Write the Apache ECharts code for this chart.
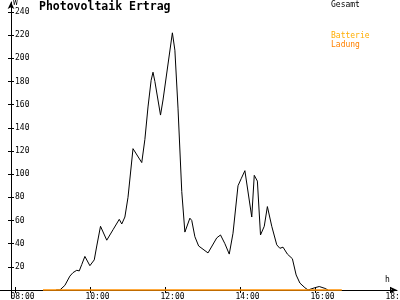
<!DOCTYPE html>
<html>
<head>
<meta charset="utf-8">
<script src="https://cdn.jsdelivr.net/npm/echarts@6/dist/echarts.min.js"></script>
<style>html,body{margin:0;padding:0;background:#fff}#c{width:400px;height:300px}</style>
</head>
<body>
<div id="c"></div>
<script>
const titleText = "Photovoltaik Ertrag";
const seriesNames = ["Gesamt", "Batterie", "Ladung"];
const xTickHours = [8, 10, 12, 14, 16, 18];
const yTickValues = [0, 20, 40, 60, 80, 100, 120, 140, 160, 180, 200, 220, 240];
const yLabelValues = [20, 40, 60, 80, 100, 120, 140, 160, 180, 200, 220, 240];

const gesamtTimes = ["09:05","09:11","09:19","09:27","09:32","09:38","09:42","09:46","09:51","09:59",
  "10:06","10:10","10:16","10:26","10:36","10:46","10:50","10:55","11:00","11:08",
  "11:22","11:27","11:32","11:37","11:40","11:43","11:52","11:56","12:11","12:15",
  "12:20","12:26","12:31","12:39","12:42","12:47","12:53","13:08","13:22","13:28",
  "13:35","13:42","13:48","13:56","14:01","14:07","14:18","14:22","14:27","14:32",
  "14:38","14:43","14:50","14:58","15:03","15:08","15:15","15:23","15:29","15:35",
  "15:43","15:48","15:59","16:06","16:15","16:20"];
const gesamtValues = [0,0,4,12,15,17,16.5,22,29,21,
  26,38,55,43,52,61,57,63,80,122,
  110,130,158,181,188,180,151,164,222,207,
  157,85,50,62,60,46,38,32,45,47.5,
  40,31,49,90,96,103,63,99,94,47.5,
  55,72,55,39,36,37,31,27,13,6,
  2,0,2,3,1.4,0];

const batterieTimes = ["08:44","16:42"];
const batterieValues = [0, 0];
const ladungTimes = ["08:44","16:42"];
const ladungValues = [0, 0];

function toHours(s){ const p = s.split(":"); return +p[0] + (+p[1])/60; }
function pairs(t, v){ return t.map((s,i)=>[toHours(s), v[i]]); }
function hh(v){ const h = Math.round(v); return (h<10?"0":"")+h+":00"; }

const FONT = "DejaVu Sans Mono";
const xMin = 8 - 15.5/37.5;
const xMax = xMin + 397/37.5;
const yMin = -6.9, yMax = 248.6;

const chart = echarts.init(document.getElementById('c'), null, {renderer:'canvas'});
const xCommon = {type:'value', min:xMin, max:xMax, splitLine:{show:false}, position:'bottom', offset:-8};
const yCommon = {type:'value', min:yMin, max:yMax, splitLine:{show:false}, position:'left', offset:-11};
chart.setOption({
  animation:false,
  backgroundColor:'#fff',
  grid:{left:0, right:3, top:2, bottom:2, containLabel:false, outerBoundsMode:'none'},
  graphic:[
    {type:'text', left:39, top:1, style:{text:titleText, font:"bold 11.5px '"+FONT+"'", fill:'#000'}},
    {type:'text', left:13, top:-1, style:{text:'W', font:"8px '"+FONT+"'", fill:'#000'}},
    {type:'text', left:385, top:276, style:{text:'h', font:"8px '"+FONT+"'", fill:'#000'}}
  ],
  legend:[
    {left:325, top:0, padding:0, itemWidth:0, itemHeight:0, itemGap:0, orient:'vertical', selectedMode:false,
     textStyle:{fontFamily:FONT, fontSize:8, lineHeight:9},
     data:[{name:seriesNames[0], textStyle:{color:'#000'}}]},
    {left:325, top:31, padding:0, itemWidth:0, itemHeight:0, itemGap:0, orient:'vertical', selectedMode:false,
     textStyle:{fontFamily:FONT, fontSize:8, lineHeight:9},
     data:[{name:seriesNames[1], textStyle:{color:'#ffad00'}},{name:seriesNames[2], textStyle:{color:'#ff8000'}}]}
  ],
  xAxis:[
    Object.assign({}, xCommon, {
      axisLine:{show:true, onZero:false, symbol:['none','arrow'], symbolSize:[5,7], lineStyle:{color:'#000', width:1}},
      axisTick:{show:true, inside:false, length:3, customValues:xTickHours, lineStyle:{color:'#000'}},
      axisLabel:{show:true, margin:3, customValues:xTickHours, hideOverlap:false, formatter:v=>'{a|'+hh(v)+'}',
        rich:{a:{fontFamily:FONT, fontSize:8, color:'#000', padding:[0,0,0,14]}}}
    }),
    Object.assign({}, xCommon, {
      axisLine:{show:false, onZero:false},
      axisTick:{show:true, inside:true, length:3, customValues:xTickHours, lineStyle:{color:'#000'}},
      axisLabel:{show:false}
    })
  ],
  yAxis:[
    Object.assign({}, yCommon, {
      axisLine:{show:true, onZero:false, symbol:['none','arrow'], symbolSize:[5,7], lineStyle:{color:'#000', width:1}},
      axisTick:{show:true, inside:false, length:3, customValues:yTickValues, lineStyle:{color:'#000'}},
      axisLabel:{show:true, inside:true, margin:4, customValues:yLabelValues, fontFamily:FONT, fontSize:8, color:'#000'}
    }),
    Object.assign({}, yCommon, {
      axisLine:{show:false, onZero:false},
      axisTick:{show:true, inside:true, length:3, customValues:yTickValues, lineStyle:{color:'#000'}},
      axisLabel:{show:false}
    })
  ],
  series:[
    {name:seriesNames[0], type:'line', data:pairs(gesamtTimes,gesamtValues), showSymbol:false, symbol:'none',
     lineStyle:{color:'#000', width:1}, itemStyle:{color:'#000'}, z:2},
    {name:seriesNames[1], type:'line', data:pairs(batterieTimes,batterieValues), showSymbol:false, symbol:'none',
     lineStyle:{color:'#ffad00', width:1}, itemStyle:{color:'#ffad00'}, z:3},
    {name:seriesNames[2], type:'line', data:pairs(ladungTimes,ladungValues), showSymbol:false, symbol:'none',
     lineStyle:{color:'#ff8000', width:1}, itemStyle:{color:'#ff8000'}, z:4}
  ]
});
</script>
</body>
</html>
